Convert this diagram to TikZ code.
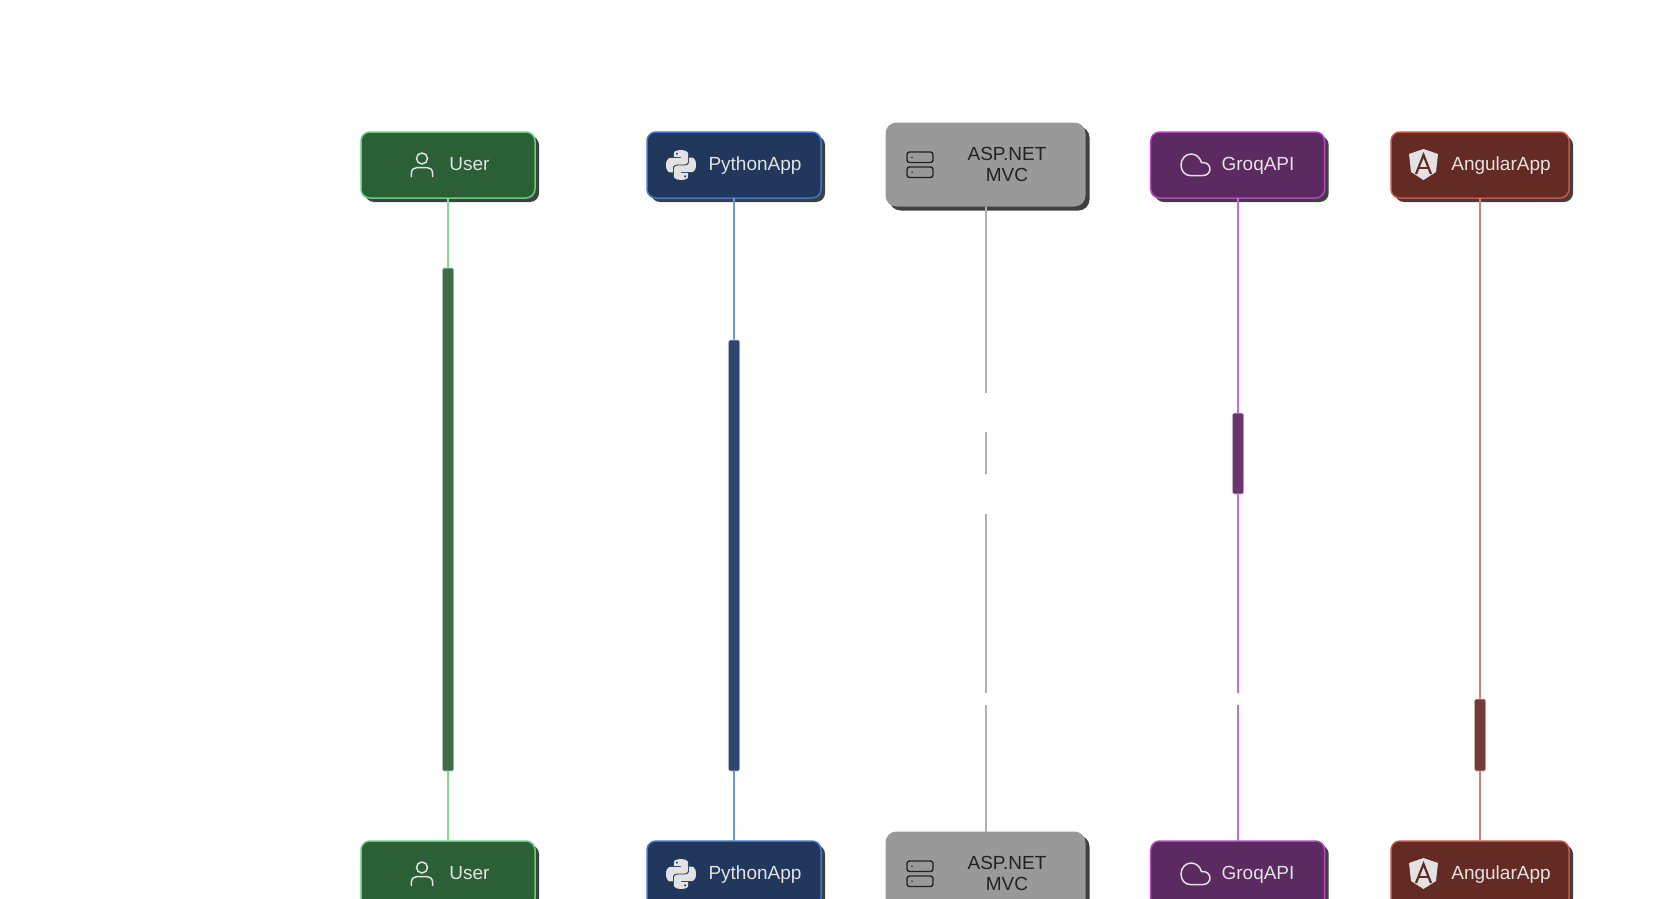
\documentclass[tikz,border=0pt]{standalone}
\usepackage{fontspec}
\setmainfont{Liberation Sans}
\usetikzlibrary{shadows}
\definecolor{shadowgray}{HTML}{404040}
\definecolor{iconlight}{HTML}{E2E2E2}
\definecolor{icondark}{HTML}{222222}
\definecolor{userfill}{HTML}{2B5F35}
\definecolor{userline}{HTML}{62D078}
\definecolor{userlife}{HTML}{7FDF90}
\definecolor{useract}{HTML}{3C6E46}
\definecolor{pyfill}{HTML}{21375C}
\definecolor{pyline}{HTML}{3A75D3}
\definecolor{pylife}{HTML}{6699E3}
\definecolor{pyact}{HTML}{2E466F}
\definecolor{aspfill}{HTML}{999999}
\definecolor{asplife}{HTML}{B0B0B0}
\definecolor{groqfill}{HTML}{5B2A60}
\definecolor{groqline}{HTML}{B843C9}
\definecolor{groqlife}{HTML}{CC66DD}
\definecolor{groqact}{HTML}{6B3570}
\definecolor{angfill}{HTML}{642A24}
\definecolor{angline}{HTML}{CE5243}
\definecolor{anglife}{HTML}{E07A72}
\definecolor{angact}{HTML}{733B36}
\newcommand{\snakeshape}{%
  \fill[iconlight,even odd rule] (15.885,2.1) .. controls (8.785,2.1) and (9.234,5.17) .. (9.234,5.17) -- (9.234,8.36) -- (15.986,8.36) -- (15.986,9.36) -- (6.545,9.36) .. controls (6.545,9.36) and (2,8.8) .. (2,16.005) .. controls (2,23.21) and (6.013,22.917) .. (6.013,22.917) -- (8.33,22.917) -- (8.33,19.556) .. controls (8.33,19.556) and (8.2,15.543) .. (12.23,15.543) -- (18.992,15.543) .. controls (18.992,15.543) and (22.764,15.603) .. (22.764,11.891) -- (22.764,5.8) .. controls (22.764,5.8) and (23.336,2.088) .. (15.885,2.1) -- cycle (12.153,5.45) circle[radius=1.25];}
\tikzset{
  x=1pt,y=-1pt,
  actorbox/.style={rectangle,rounded corners=9pt,minimum width=174pt,minimum height=66pt,inner sep=0pt,outer sep=0pt,line width=1.5pt,
    drop shadow={shadow xshift=4pt,shadow yshift=-4pt,opacity=1,fill=shadowgray}},
  aspbox/.style={actorbox,rounded corners=11pt,minimum width=200pt,minimum height=84pt,draw=none,fill=aspfill},
  userbox/.style={actorbox,draw=userline,fill=userfill},
  pybox/.style={actorbox,draw=pyline,fill=pyfill},
  groqbox/.style={actorbox,draw=groqline,fill=groqfill},
  angbox/.style={actorbox,minimum width=178pt,draw=angline,fill=angfill},
  lifeline/.style={line width=1.5pt},
  actbar/.style={rectangle,rounded corners=1.5pt,minimum width=11.5pt,inner sep=0pt,outer sep=0pt,draw=black!18,line width=0.7pt},
  lbl/.style={font=\fontsize{19}{21}\selectfont,inner sep=0pt,anchor=base,text=iconlight},
  asplbl/.style={font=\fontsize{19}{21}\selectfont,inner sep=0pt,anchor=center,align=center,text=icondark},
  pics/usericon/.style={code={
    \draw[iconlight,line width=1.5pt] (0,-6.5) circle[radius=5.5];
    \draw[iconlight,line width=1.5pt,line cap=round] (-10.7,11.5) -- (-10.7,9) .. controls (-10.7,4.5) and (-8,2.5) .. (-5,2.5) -- (5,2.5) .. controls (8,2.5) and (10.7,4.5) .. (10.7,9) -- (10.7,11.5);
  }},
  pics/pyicon/.style={code={
    \begin{scope}[scale=1.07]
      \begin{scope}[shift={(-16,-16)}]\snakeshape\end{scope}
      \begin{scope}[rotate=180]\begin{scope}[shift={(-16,-16)}]\snakeshape\end{scope}\end{scope}
    \end{scope}
  }},
  pics/servericon/.style={code={
    \draw[icondark,line width=1.4pt,rounded corners=2.5pt] (-13,-13) rectangle (13,-2.5);
    \draw[icondark,line width=1.4pt,rounded corners=2.5pt] (-13,2) rectangle (13,12.5);
    \fill[icondark] (-8,-7.7) circle[radius=0.8] (-8,7.2) circle[radius=0.8];
  }},
  pics/cloudicon/.style={code={
    \draw[iconlight,line width=1.5pt,line join=round] (-5.5,10.5) -- (7.5,10.5) .. controls (11.5,10.5) and (14.5,7.5) .. (14.5,4) .. controls (14.5,0.5) and (11.5,-2.5) .. (7.5,-2.5) -- (6,-2.5) .. controls (4.5,-7.5) and (0.5,-11) .. (-4.5,-11) .. controls (-10,-11) and (-14.5,-6) .. (-14.5,0) .. controls (-14.5,6) and (-10.5,10.5) .. (-5.5,10.5) -- cycle;
  }},
  pics/angicon/.style={code={
    \fill[iconlight] (0,-15.5) -- (14.5,-10.5) -- (12.5,7.5) -- (0,15.5) -- (-12.5,7.5) -- (-14.5,-10.5) -- cycle;
    \draw[angfill,line width=2.2pt,line join=miter] (-7.5,9.5) -- (0,-9.5) -- (7.5,9.5);
    \draw[angfill,line width=2pt] (-4.5,3.5) -- (4.5,3.5);
  }},
}
\begin{document}
\begin{tikzpicture}
\useasboundingbox (0,0) rectangle (1670,899);
\clip (0,0) rectangle (1670,899);
\fill[white] (0,0) rectangle (1670,899);
% actor boxes
\node[userbox] (user) at (448,165) {};
\node[pybox] (py) at (734,165) {};
\node[aspbox] (asp) at (985.5,164.5) {};
\node[groqbox] (groq) at (1237.7,165) {};
\node[angbox] (ang) at (1480,165) {};
\node[userbox] (userb) at (448,874) {};
\node[pybox] (pyb) at (734,874) {};
\node[aspbox] (aspb) at (985.5,873.5) {};
\node[groqbox] (groqb) at (1237.7,874) {};
\node[angbox] (angb) at (1480,874) {};
% gaps in the lifelines
\coordinate (a1) at (986,393);
\coordinate (a2) at (986,432);
\coordinate (a3) at (986,474);
\coordinate (a4) at (986,514);
\coordinate (a5) at (986,693);
\coordinate (a6) at (986,705);
\coordinate (g1) at (1238,693);
\coordinate (g2) at (1238,705);
% lifelines
\draw[lifeline,userlife] (user.south) -- (userb.north);
\draw[lifeline,pylife] (py.south) -- (pyb.north);
\draw[lifeline,asplife] ([xshift=.5pt]asp.south) -- (a1) (a2) -- (a3) (a4) -- (a5) (a6) -- ([xshift=.5pt]aspb.north);
\draw[lifeline,groqlife] ([xshift=.3pt]groq.south) -- (g1) (g2) -- ([xshift=.3pt]groqb.north);
\draw[lifeline,anglife] (ang.south) -- (angb.north);
% activation bars
\node[actbar,fill=useract,minimum height=503pt] (uact) at (448,519.5) {};
\node[actbar,fill=pyact,minimum height=431pt] (pact) at (734,555.5) {};
\node[actbar,fill=groqact,minimum height=81pt] (gact) at (1238,453.5) {};
\node[actbar,fill=angact,minimum height=72pt] (aact) at (1480,735) {};
% top labels
\pic at (422,165) {usericon};
\node[lbl] (t1) at (469.5,170.7) {User};
\pic at (681,165) {pyicon};
\node[lbl] (t2) at (755,170.7) {PythonApp};
\pic at (920,165) {servericon};
\node[asplbl] (t3) at (1007,164) {ASP.NET\\MVC};
\pic at (1195.5,165) {cloudicon};
\node[lbl] (t4) at (1258,170.7) {GroqAPI};
\pic at (1423.5,164.5) {angicon};
\node[lbl] (t5) at (1501,170.7) {AngularApp};
% bottom labels
\pic at (422,874) {usericon};
\node[lbl] (b1) at (469.5,879.7) {User};
\pic at (681,874) {pyicon};
\node[lbl] (b2) at (755,879.7) {PythonApp};
\pic at (920,874) {servericon};
\node[asplbl] (b3) at (1007,873) {ASP.NET\\MVC};
\pic at (1195.5,874) {cloudicon};
\node[lbl] (b4) at (1258,879.7) {GroqAPI};
\pic at (1423.5,873.5) {angicon};
\node[lbl] (b5) at (1501,879.7) {AngularApp};
\end{tikzpicture}
\end{document}
